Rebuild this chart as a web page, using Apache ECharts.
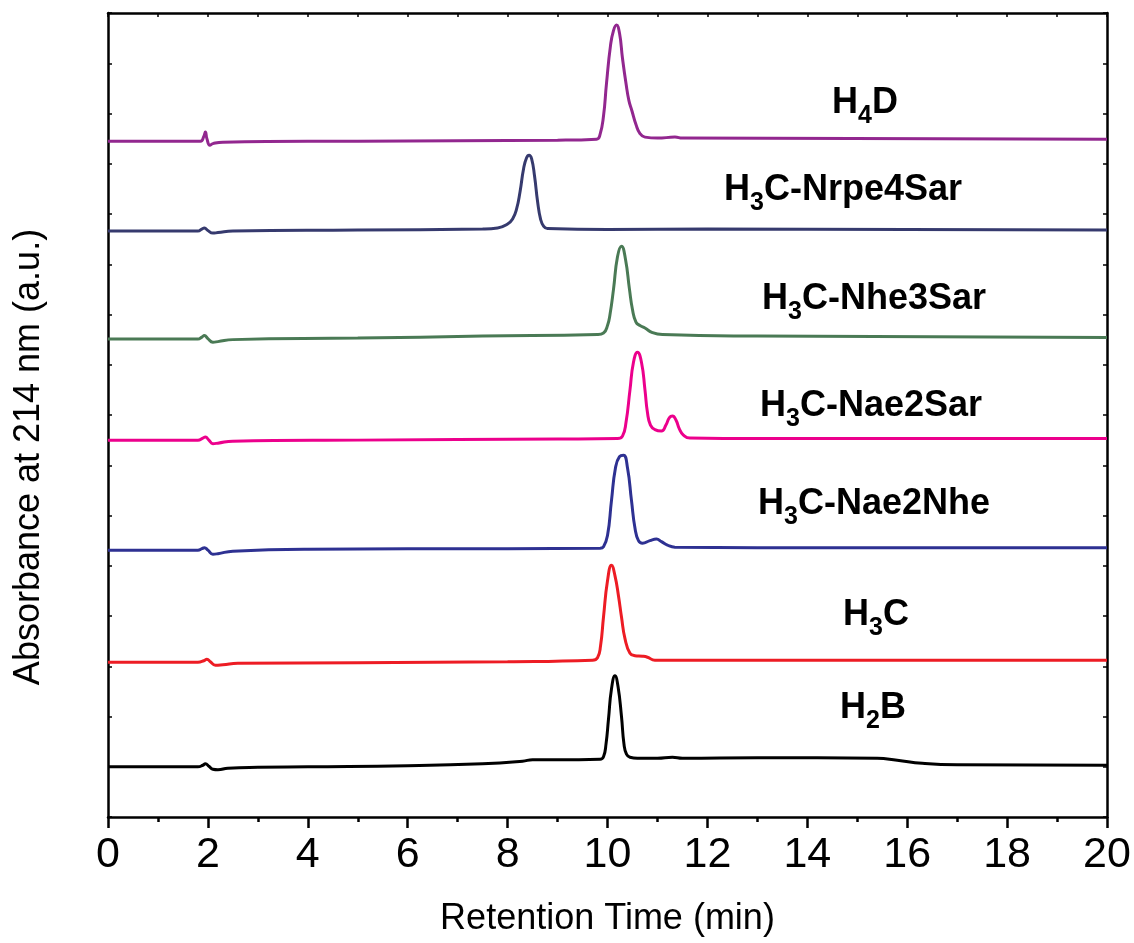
<!DOCTYPE html>
<html>
<head>
<meta charset="utf-8">
<script src="https://cdn.jsdelivr.net/npm/echarts@6/dist/echarts.min.js"></script>
<style>
html,body{margin:0;padding:0;background:#fff;overflow:hidden;}
#chart{width:1134px;height:943px;}
</style>
</head>
<body>
<div id="chart"></div>
<script>
// ---- data: [retention time (min), stacked absorbance (a.u.)] ----
const traceH2B = [[0,1.0],[1.8,1.0],[1.9,1.03],[1.95,1.06],[2.02,1.01],[2.1,0.95],[2.2,0.94],[2.4,0.97],[3,0.99],[4,1.0],[6,1.02],[7.5,1.06],[8.3,1.11],[8.5,1.14],[9,1.14],[9.85,1.15],[9.92,1.2],[9.97,1.45],[10.02,1.95],[10.08,2.55],[10.15,2.81],[10.21,2.6],[10.28,2.0],[10.33,1.45],[10.38,1.25],[10.45,1.19],[10.6,1.17],[11,1.17],[11.3,1.19],[11.5,1.17],[13,1.18],[15.4,1.17],[15.8,1.13],[16.3,1.07],[17,1.04],[20,1.03]];
const traceH3C = [[0,3.08],[1.8,3.08],[1.92,3.11],[1.98,3.14],[2.05,3.09],[2.15,3.02],[2.3,3.03],[2.6,3.06],[5,3.07],[8,3.09],[9.7,3.12],[9.8,3.17],[9.86,3.4],[9.92,3.98],[10.0,4.7],[10.08,5.01],[10.15,4.8],[10.22,4.4],[10.28,3.98],[10.35,3.55],[10.45,3.26],[10.55,3.21],[10.7,3.2],[10.8,3.18],[10.95,3.12],[12,3.12],[20,3.12]];
const traceNae2Nhe = [[0,5.31],[1.8,5.31],[1.88,5.34],[1.93,5.36],[2.0,5.31],[2.1,5.23],[2.2,5.24],[2.5,5.29],[4,5.33],[8,5.34],[9.85,5.35],[9.92,5.38],[10.0,5.6],[10.08,6.3],[10.16,6.95],[10.24,7.17],[10.32,7.2],[10.4,6.95],[10.48,6.3],[10.55,5.75],[10.62,5.5],[10.7,5.45],[10.85,5.5],[10.98,5.53],[11.08,5.48],[11.2,5.41],[11.35,5.37],[13,5.36],[20,5.36]];
const traceNae2Sar = [[0,7.5],[1.8,7.5],[1.9,7.54],[1.95,7.56],[2.02,7.5],[2.1,7.43],[2.2,7.44],[2.5,7.48],[5,7.5],[9,7.52],[10.2,7.53],[10.3,7.58],[10.37,7.85],[10.45,8.5],[10.52,9.05],[10.6,9.25],[10.68,9.05],[10.75,8.5],[10.8,8.05],[10.86,7.8],[10.95,7.71],[11.08,7.68],[11.17,7.8],[11.24,7.95],[11.3,7.98],[11.37,7.9],[11.44,7.72],[11.52,7.6],[11.65,7.54],[13,7.53],[20,7.53]];
const traceNhe3Sar = [[0,9.51],[1.8,9.51],[1.88,9.55],[1.93,9.58],[2.0,9.52],[2.1,9.45],[2.2,9.46],[2.5,9.5],[5,9.53],[7.5,9.57],[9.8,9.6],[9.92,9.63],[10.0,9.78],[10.05,10.0],[10.12,10.5],[10.2,11.15],[10.28,11.36],[10.36,11.1],[10.44,10.5],[10.5,10.1],[10.57,9.85],[10.65,9.78],[10.75,9.73],[10.9,9.64],[11.1,9.6],[13,9.57],[20,9.54]];
const traceNrpe4Sar = [[0,11.66],[1.8,11.66],[1.88,11.7],[1.93,11.72],[2.0,11.67],[2.1,11.62],[2.2,11.63],[2.5,11.66],[5,11.68],[7.5,11.7],[7.8,11.72],[8.0,11.8],[8.1,11.9],[8.18,12.1],[8.25,12.45],[8.32,12.9],[8.38,13.12],[8.43,13.17],[8.48,13.1],[8.54,12.75],[8.6,12.25],[8.66,11.9],[8.72,11.76],[8.8,11.71],[10,11.69],[12,11.7],[20,11.68]];
const traceH4D = [[0,13.45],[1.85,13.45],[1.92,13.55],[1.95,13.63],[1.98,13.5],[2.04,13.37],[2.1,13.4],[2.3,13.43],[5,13.45],[9,13.47],[9.78,13.49],[9.85,13.58],[9.92,13.95],[9.98,14.6],[10.06,15.35],[10.12,15.65],[10.18,15.76],[10.24,15.6],[10.3,15.1],[10.37,14.6],[10.43,14.25],[10.49,14.05],[10.57,13.78],[10.65,13.6],[10.75,13.53],[11,13.51],[11.35,13.53],[11.5,13.51],[20,13.49]];

const xTicks = [0,2,4,6,8,10,12,14,16,18,20];
const seriesNames = ['H2B','H3C','H3C-Nae2Nhe','H3C-Nae2Sar','H3C-Nhe3Sar','H3C-Nrpe4Sar','H4D'];
// label pieces: [text, isSubscript]
const labelParts = [
  [['H',0],['2',1],['B',0]],
  [['H',0],['3',1],['C',0]],
  [['H',0],['3',1],['C-Nae2Nhe',0]],
  [['H',0],['3',1],['C-Nae2Sar',0]],
  [['H',0],['3',1],['C-Nhe3Sar',0]],
  [['H',0],['3',1],['C-Nrpe4Sar',0]],
  [['H',0],['4',1],['D',0]]
];

// ---- styling / layout ----
const colors = ['#000000','#ed1c24','#2e3192','#ec008c','#4a7a55','#363a6e','#92278f'];
const labelLayout = { left:[840,843,758,760,762,724,832], base:[721,628,517,419,312,203,116] };
const FONT = '"Liberation Sans", Arial, Helvetica, sans-serif';
const mainFS = 36, subFS = 25;

const chart = echarts.init(document.getElementById('chart'), null, {renderer:'canvas', width:1134, height:943});
const traces = [traceH2B, traceH3C, traceNae2Nhe, traceNae2Sar, traceNhe3Sar, traceNrpe4Sar, traceH4D];

const mctx = document.createElement('canvas').getContext('2d');
function w(txt, fs){ mctx.font = 'bold ' + fs + 'px ' + FONT; return mctx.measureText(txt).width; }

const graphics = [];
labelParts.forEach((parts, i) => {
  let x = labelLayout.left[i];
  const base = labelLayout.base[i];
  parts.forEach(([t, sub]) => {
    const fs = sub ? subFS : mainFS;
    const b = sub ? base + 9 : base;
    graphics.push({type:'text', x:x, y:b - 0.36*fs, silent:true,
      style:{text:t, font:'bold ' + fs + 'px ' + FONT, fill:'#000', textAlign:'left', textVerticalAlign:'middle'}});
    x += w(t, fs);
  });
});
graphics.push({type:'text', x:29, y:457, rotation:Math.PI/2, silent:true,
  style:{text:'Absorbance at 214 nm (a.u.)', font:'36px ' + FONT, fill:'#000', textAlign:'center', textVerticalAlign:'middle'}});

const axisLine = {show:true, onZero:false, lineStyle:{color:'#000', width:2.5}};
chart.setOption({
  animation:false,
  backgroundColor:'#fff',
  grid:{left:108, right:27, top:13, bottom:126, containLabel:false, outerBoundsMode:'none'},
  xAxis:[
    {type:'value', min:0, max:20, interval:2, position:'bottom',
     axisLine:axisLine,
     axisTick:{show:true, inside:false, length:11, lineStyle:{color:'#000', width:2.5}},
     minorTick:{show:true, splitNumber:2, length:5, lineStyle:{color:'#000', width:2.5}},
     axisLabel:{show:true, fontSize:43, color:'#000', fontFamily:FONT, margin:17,
       formatter:(v)=> xTicks.includes(v) ? String(v) : ''},
     splitLine:{show:false},
     name:'Retention Time (min)', nameLocation:'middle', nameGap:84,
     nameTextStyle:{fontSize:36, color:'#000', fontFamily:FONT}},
    {type:'value', min:0, max:20, interval:1, position:'top',
     axisLine:axisLine, axisTick:{show:true, inside:true, length:4, lineStyle:{color:'#000', width:1.5}},
     axisLabel:{show:false}, splitLine:{show:false}}
  ],
  yAxis:[
    {type:'value', min:0, max:16, interval:1, position:'left',
     axisLine:axisLine, axisTick:{show:true, inside:true, length:4, lineStyle:{color:'#000', width:1.5}},
     axisLabel:{show:false}, splitLine:{show:false}},
    {type:'value', min:0, max:16, interval:1, position:'right',
     axisLine:axisLine, axisTick:{show:true, inside:true, length:4, lineStyle:{color:'#000', width:1.5}},
     axisLabel:{show:false}, splitLine:{show:false}}
  ],
  series: traces.map((d, i) => ({
    name: seriesNames[i], type:'line', data:d, xAxisIndex:0, yAxisIndex:0,
    showSymbol:false, smooth:0.5,
    lineStyle:{color:colors[i], width:3}, z:3
  })),
  graphic: graphics
});
</script>
</body>
</html>
